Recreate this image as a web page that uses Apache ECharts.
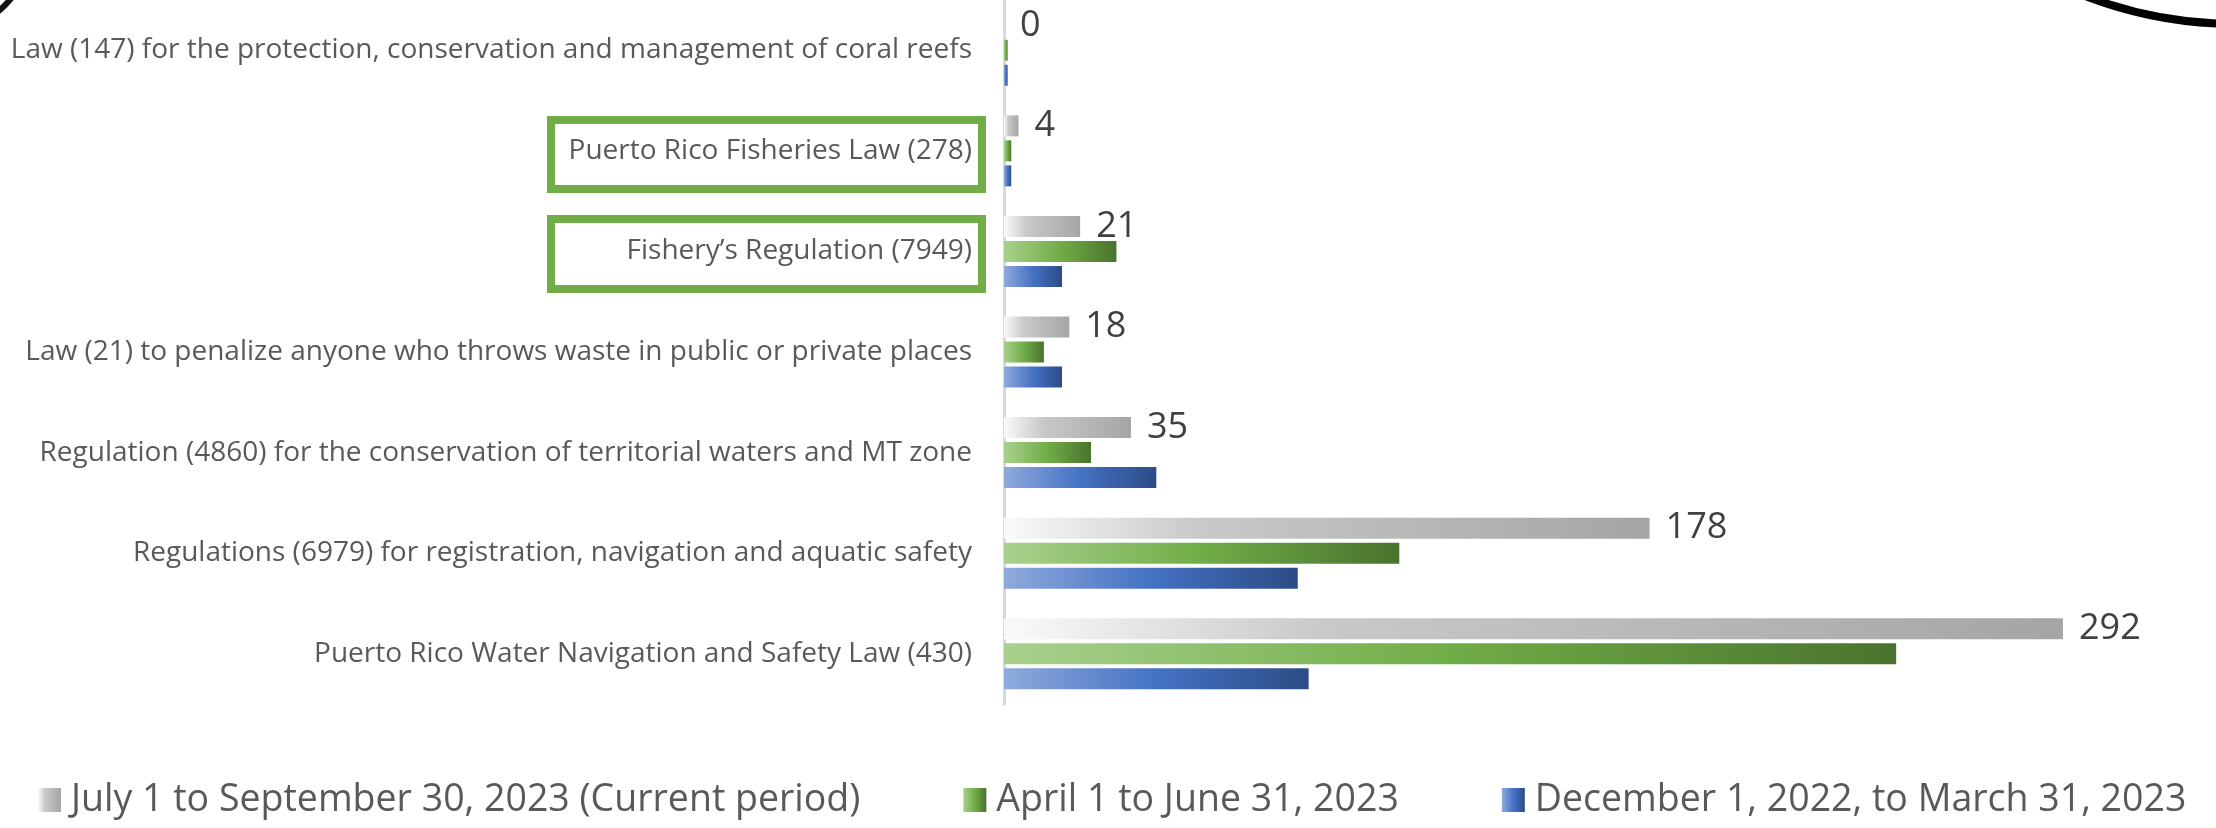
<!DOCTYPE html>
<html>
<head>
    <meta charset="utf-8" />
    <title></title>
    <script src="https://cdn.jsdelivr.net/npm/echarts@6/dist/echarts.min.js"></script>
    <style>
        html, body { margin: 0; padding: 0; background: #fff; }
    </style>
</head>
<body>
    <div id="main" style="width: 2216px; height: 828px;"></div>
    <script type="text/javascript">
        // categories, top to bottom
        var categories = [
            'Law (147) for the protection, conservation and management of coral reefs',
            'Puerto Rico Fisheries Law (278)',
            'Fishery\u2019s Regulation (7949)',
            'Law (21) to penalize anyone who throws waste in public or private places',
            'Regulation (4860) for the conservation of territorial waters and MT zone',
            'Regulations (6979) for registration, navigation and aquatic safety',
            'Puerto Rico Water Navigation and Safety Law (430)'
        ];
        var seriesNames = [
            'July 1 to September 30, 2023 (Current period)',
            'April 1 to June 31, 2023',
            'December 1, 2022, to March 31, 2023'
        ];
        var currentPeriod = [0, 4, 21, 18, 35, 178, 292];
        var aprilJune = [1, 2, 31, 11, 24, 109, 246];
        var decMarch = [1, 2, 16, 16, 42, 81, 84];

        var font = '"Open Sans", "Noto Sans", sans-serif';

        function grad(stops) {
            return new echarts.graphic.LinearGradient(0, 0, 1, 0, stops);
        }
        var grayFill = grad([
            { offset: 0, color: '#fafafa' },
            { offset: 0.3, color: '#c9c9c9' },
            { offset: 1, color: '#a5a5a5' }
        ]);
        var greenFill = grad([
            { offset: 0, color: '#a9d18e' },
            { offset: 0.5, color: '#70ad47' },
            { offset: 1, color: '#4a732d' }
        ]);
        var blueFill = grad([
            { offset: 0, color: '#8faadc' },
            { offset: 0.5, color: '#4472c4' },
            { offset: 1, color: '#2c4c86' }
        ]);

        var myChart = echarts.init(document.getElementById('main'));
        var option = {
            backgroundColor: '#ffffff',
            animation: false,
            textStyle: { fontFamily: font },
            grid: {
                left: 1004,
                right: 124,
                top: 0,
                bottom: 124
            },
            legend: {
                left: 38,
                top: 776,
                padding: 0,
                itemWidth: 23,
                itemHeight: 24,
                itemGap: 103,
                icon: 'rect',
                data: seriesNames,
                textStyle: {
                    fontFamily: font,
                    fontSize: 37.5,
                    color: '#595959',
                    lineHeight: 48,
                    padding: [0, 0, 0, 5]
                }
            },
            xAxis: {
                type: 'value',
                min: 0,
                max: 300,
                show: false,
                splitLine: { show: false }
            },
            yAxis: {
                type: 'category',
                inverse: true,
                data: categories,
                axisTick: { show: false },
                axisLine: {
                    show: true,
                    lineStyle: { color: '#d9d9d9', width: 3 }
                },
                axisLabel: {
                    margin: 32,
                    fontFamily: font,
                    fontSize: 28,
                    color: '#595959'
                }
            },
            series: [
                {
                    name: seriesNames[0],
                    type: 'bar',
                    barWidth: 21,
                    barGap: '19%',
                    itemStyle: { color: grayFill },
                    label: {
                        show: true,
                        position: 'right',
                        distance: 16,
                        fontFamily: font,
                        fontSize: 36,
                        color: '#404040'
                    },
                    data: currentPeriod
                },
                {
                    name: seriesNames[1],
                    type: 'bar',
                    barWidth: 21,
                    barGap: '19%',
                    itemStyle: { color: greenFill },
                    data: aprilJune
                },
                {
                    name: seriesNames[2],
                    type: 'bar',
                    barWidth: 21,
                    barGap: '19%',
                    itemStyle: { color: blueFill },
                    data: decMarch
                }
            ],
            graphic: [
                // green highlight boxes round two of the labels
                {
                    type: 'rect',
                    shape: { x: 551, y: 120, width: 431, height: 69 },
                    style: { fill: 'none', stroke: '#70ad47', lineWidth: 8 }
                },
                {
                    type: 'rect',
                    shape: { x: 551, y: 219, width: 431, height: 70 },
                    style: { fill: 'none', stroke: '#70ad47', lineWidth: 8 }
                },
                // clipped logo fragments at the corners
                {
                    type: 'circle',
                    shape: { cx: 2236, cy: -396, r: 420 },
                    style: { fill: 'none', stroke: '#000', lineWidth: 8 }
                },
                {
                    type: 'circle',
                    shape: { cx: -60, cy: -60, r: 92 },
                    style: { fill: 'none', stroke: '#111', lineWidth: 6 }
                }
            ]
        };
        myChart.setOption(option);
    </script>
</body>
</html>
